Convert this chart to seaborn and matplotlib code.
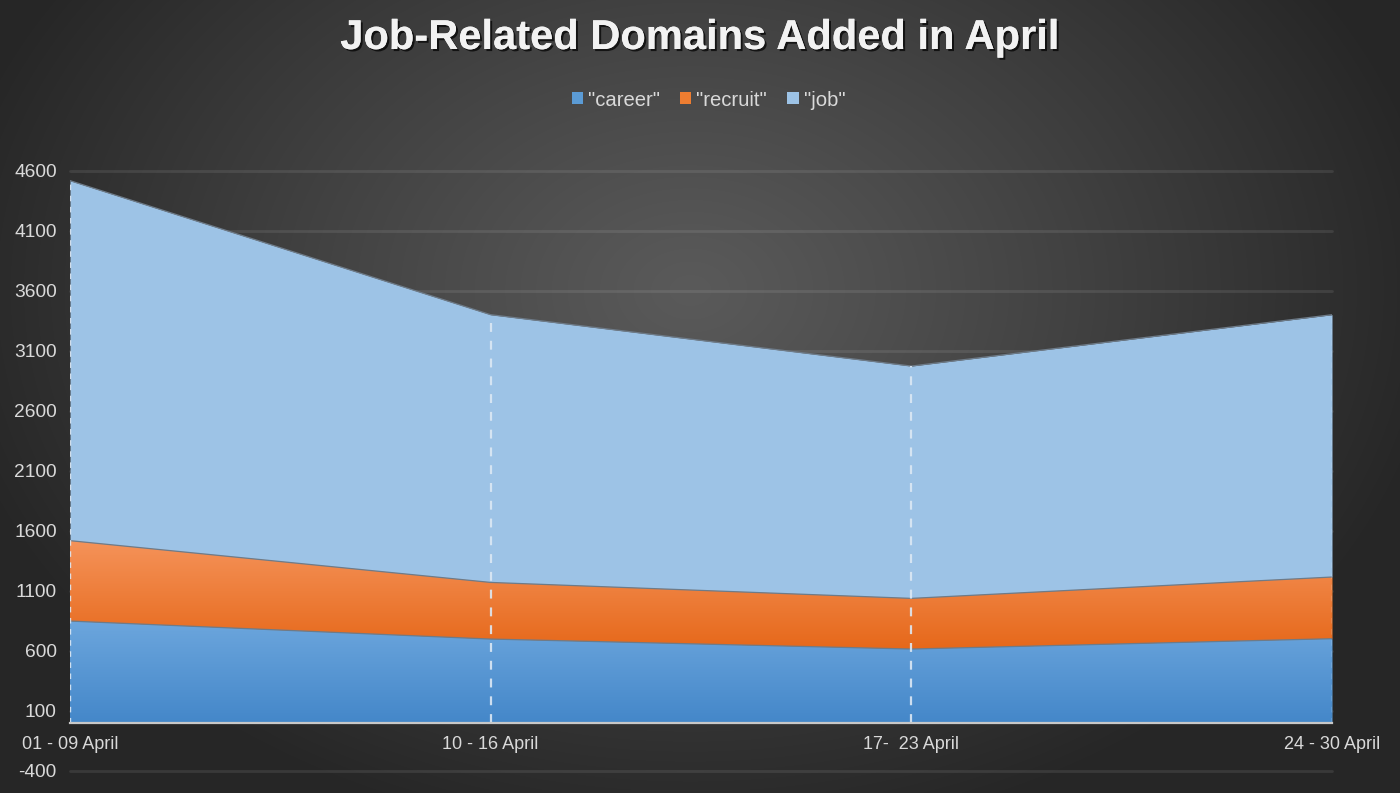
import numpy as np
import pandas as pd
import matplotlib
matplotlib.use("Agg")
import matplotlib.pyplot as plt
import matplotlib.patheffects as pe
from matplotlib.patches import Patch
from matplotlib.colors import LinearSegmentedColormap
import seaborn as sns

# ---- data ----
periods = ["01 - 09 April", "10 - 16 April", "17-  23 April", "24 - 30 April"]
career = [847, 697, 614, 700]
recruit = [670, 472, 422, 514]
job = [3000, 2231, 1936, 2186]
series_names = ['"career"', '"recruit"', '"job"']
yticks = [-400, 100, 600, 1100, 1600, 2100, 2600, 3100, 3600, 4100, 4600]

sns.set_theme(style="dark")
plt.rcParams["font.family"] = ["Liberation Sans", "DejaVu Sans"]
plt.rcParams["axes.unicode_minus"] = False

W, H = 1400, 793
fig = plt.figure(figsize=(W / 100, H / 100), dpi=100)

# background radial gradient
bg = fig.add_axes([0, 0, 1, 1], zorder=-10)
yy, xx = np.mgrid[0:H, 0:W]
r = np.sqrt(((xx - 690) / 760.0) ** 2 + ((yy - 290) / 560.0) ** 2)
r = np.clip(r, 0, 1)
v = (0x5a - (0x5a - 0x26) * r ** 1.1) / 255.0
bg.imshow(np.dstack([v, v, v]), extent=(0, 1, 0, 1), aspect="auto", origin="upper")
bg.set_axis_off()

left, right = 70 / W, 1332 / W
top_px, bot_px = 170.7, 770.7
ax = fig.add_axes([left, 1 - bot_px / H, right - left, (bot_px - top_px) / H])
ax.set_facecolor("none")

x = np.arange(len(periods))
c1 = np.array(career)
c2 = c1 + np.array(recruit)
c3 = c2 + np.array(job)

colls = ax.stackplot(x, career, recruit, job,
                     colors=["#5b9bd5", "#ed7d31", "#9dc3e6"],
                     labels=series_names, zorder=2, linewidth=0)

# vertical gradients clipped to the stacked areas
grads = [
    (colls[0], ["#4487c9", "#6ca6dd"], 0, c1.max()),
    (colls[1], ["#e6681a", "#f5935a"], c1.min(), c2.max()),
]
for coll, cols, lo, hi in grads:
    cmap = LinearSegmentedColormap.from_list("g", cols)
    grad = np.linspace(0, 1, 256).reshape(-1, 1)
    im = ax.imshow(grad, cmap=cmap, extent=(0, 3, lo, hi), origin="lower",
                   aspect="auto", zorder=2.5)
    im.set_clip_path(coll.get_paths()[0], ax.transData)

# boundary lines
df = pd.DataFrame({"x": np.tile(x, 3),
                   "y": np.concatenate([c1, c2, c3]),
                   "s": np.repeat(["a", "b", "c"], len(x))})
sns.lineplot(data=df, x="x", y="y", units="s", estimator=None, color="#6e7b88",
             lw=0.9, ax=ax, zorder=3, legend=False)

# drop lines
for xi, top in zip(x, c3):
    ax.vlines(xi, 0, top, colors="#dce8f4", linestyles=(0, (4, 4)),
              lw=1.6 if 0 < xi < 3 else 1.0, zorder=4, alpha=0.9)

ax.set_xlim(0, 3)
ax.set_ylim(-400, 4600)
ax.set_yticks(yticks)
ax.set_xticks(x)
ax.set_xticklabels(periods)
ax.set_xlabel("")
ax.set_ylabel("")
ax.grid(False)
for yt in yticks:
    ax.axhline(yt, color="white", alpha=0.09, lw=2.0, zorder=1, clip_on=False)

for s in ["top", "left", "right"]:
    ax.spines[s].set_visible(False)
ax.spines["bottom"].set_position(("data", 0))
ax.spines["bottom"].set_color("#c8c8c8")
ax.spines["bottom"].set_linewidth(1.6)
ax.spines["bottom"].set_zorder(5)
ax.tick_params(axis="x", length=0, pad=9.5, labelsize=13, labelcolor="#d9d9d9")
ax.tick_params(axis="y", length=0, pad=9.5, labelsize=13.8, labelcolor="#d9d9d9")

# legend
handles = [Patch(facecolor=c, edgecolor="none") for c in ["#5b9bd5", "#ed7d31", "#9dc3e6"]]
fig.legend(handles, series_names, loc="center", bbox_to_anchor=(0.506, 1 - 100 / H),
           ncol=3, frameon=False, fontsize=14.6, labelcolor="#d9d9d9",
           handlelength=0.55, handleheight=0.55, handletextpad=0.25, columnspacing=1.0)

# title
fig.text(0.5, 1 - 38 / H, "Job-Related Domains Added in April", ha="center", va="center",
         fontsize=30, fontweight="bold", color="#f2f2f2",
         path_effects=[pe.withSimplePatchShadow(offset=(1.5, -1.5), shadow_rgbFace="black", alpha=0.7),
                       pe.Normal()])

fig.savefig("out.png", dpi=100)
